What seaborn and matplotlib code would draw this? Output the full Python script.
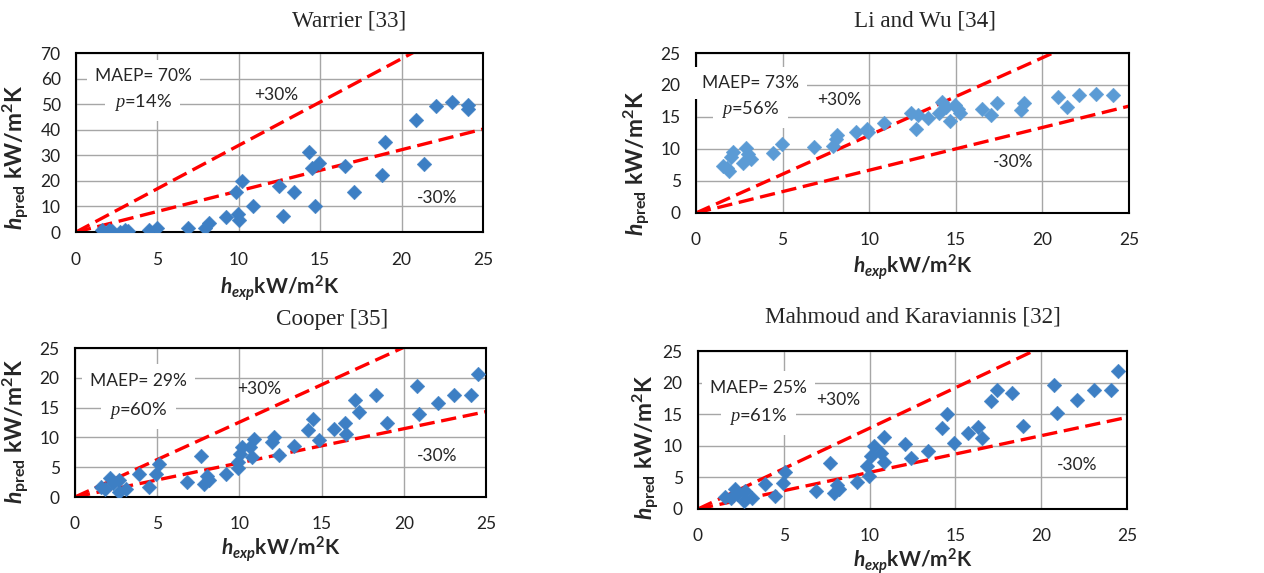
import matplotlib
matplotlib.use("Agg")
import matplotlib.pyplot as plt
import seaborn as sns
import numpy as np
import pandas as pd

# ---- data ----
# Warrier [33]
warrier_x = [1.6, 2.0, 2.2, 2.7, 3.0, 3.2, 4.5, 4.95, 6.9, 7.9, 8.15, 9.2, 9.85, 9.97, 10.0, 10.2,
             10.85, 12.5, 12.7, 13.4, 14.3, 14.5, 14.7, 14.9, 16.5, 17.1, 18.8, 19.0, 20.9, 21.4,
             22.1, 23.1, 24.1, 24.1]
warrier_y = [0.7, 0.7, 0.4, 0.0, 0.9, 0.4, 0.7, 1.6, 1.7, 1.6, 3.5, 5.9, 15.6, 7.2, 4.6, 19.8,
             10.0, 17.9, 6.1, 15.6, 31.2, 25.2, 10.2, 27.1, 25.8, 15.6, 22.3, 35.3, 43.9, 26.7,
             49.2, 50.8, 49.8, 48.2]

# Li and Wu [34]
liwu_x = [1.58, 1.8, 1.9, 2.0, 2.15, 2.7, 2.9, 3.0, 3.2, 4.46, 4.94, 6.83, 7.9, 8.08, 8.13, 9.23,
          9.9, 9.94, 10.83, 12.4, 12.7, 12.83, 13.4, 14.04, 14.23, 14.46, 14.65, 14.94, 15.13,
          15.27, 16.52, 17.06, 17.4, 18.75, 18.94, 20.9, 21.4, 22.1, 23.1, 24.1]
liwu_y = [7.4, 7.0, 6.6, 8.8, 9.6, 7.8, 10.1, 9.2, 8.5, 9.3, 10.8, 10.3, 10.5, 11.5, 12.2, 12.7,
          13.2, 12.6, 14.0, 15.6, 13.2, 15.3, 14.9, 15.6, 17.4, 16.6, 14.3, 16.9, 16.3,
          15.6, 16.3, 15.3, 17.2, 16.1, 17.2, 18.2, 16.5, 18.4, 18.6, 18.4]

# Cooper [35]
cooper_x = [1.56, 1.8, 2.13, 2.3, 2.68, 2.68, 3.1, 3.9, 4.5, 4.9, 5.1, 6.8, 7.67, 7.87, 8.03, 8.15,
            9.2, 9.9, 9.94, 10.02, 10.14, 10.67, 10.77, 10.86, 12.0, 12.1, 12.4, 13.35, 14.2,
            14.45, 14.86, 15.73, 16.4, 16.5, 17.05, 17.3, 18.3, 18.95, 20.8, 20.9, 22.1, 23.05,
            24.1, 24.5]
cooper_y = [1.7, 1.4, 3.2, 2.4, 2.8, 0.8, 1.4, 3.8, 1.6, 3.9, 5.6, 2.6, 6.9, 2.2, 3.5, 2.8,
            3.8, 4.8, 5.9, 7.2, 8.4, 8.4, 6.7, 9.7, 9.3, 10.0, 7.1, 8.6, 11.3,
            13.1, 9.6, 11.4, 12.4, 10.5, 16.2, 14.2, 17.2, 12.4, 18.7, 14.0, 15.8, 17.1,
            17.2, 20.7]

# Mahmoud and Karaviannis [32]
mahmoud_x = [1.6, 1.92, 2.17, 2.3, 2.7, 2.72, 3.16, 3.9, 4.5, 4.95, 5.1, 6.85, 7.7, 7.9, 8.1, 8.2,
             9.26, 9.84, 9.94, 10.07, 10.27, 10.68, 10.85, 10.85, 12.07, 12.42, 13.43, 14.23,
             14.5, 14.9, 15.76, 16.34, 16.54, 17.06, 17.4, 18.32, 18.96, 20.77, 20.92, 22.1,
             23.08, 24.05, 24.5]
mahmoud_y = [1.9, 1.7, 3.2, 2.4, 1.2, 2.9, 1.7, 3.9, 2.0, 4.1, 5.8, 2.8, 7.2, 2.5, 3.8, 3.2,
             4.2, 6.8, 5.2, 8.4, 9.9, 8.8, 7.4, 11.4, 10.3, 8.1, 9.1, 12.8,
             15.0, 10.5, 12.0, 12.9, 11.2, 17.1, 18.9, 18.3, 13.2, 19.7, 15.2, 17.2,
             18.8, 18.9, 21.9]

titles = ["Warrier [33]", "Li and Wu [34]", "Cooper [35]", "Mahmoud and Karaviannis [32]"]
maep = ["70%", "73%", "29%", "25%"]
pval = ["14%", "56%", "60%", "61%"]
upper_slope = [3.39, 1.213, 1.256, 1.279]
lower_slope = [1.61, 0.668, 0.573, 0.58]
ymax = [70, 25, 25, 25]
ystep = [10, 5, 5, 5]
colors = ["#3d7fc4", "#5b9bd5", "#3d7fc4", "#3d7fc4"]

# text anchor spots (data coords) for the annotations
maep_pos = [(4.14, 60.9), (3.15, 20.3), (3.86, 19.5), (3.53, 19.2)]
p_pos = [(4.1, 50.6), (3.15, 16.2), (3.86, 14.6), (3.53, 14.6)]
plus_pos = [(12.3, 53.7), (8.27, 17.7), (11.2, 18.1), (8.15, 17.3)]
minus_pos = [(22.2, 13.3), (18.3, 7.9), (22.0, 6.9), (22.1, 7.0)]

# axes boxes [left, bottom, width, height] in figure fraction
boxes = [[0.0601, 0.595, 0.322, 0.3124],
         [0.5506, 0.6283, 0.3426, 0.2792],
         [0.0593, 0.1326, 0.3252, 0.260],
         [0.5522, 0.1117, 0.3394, 0.2757]]
title_xy = [(0.276, 0.963), (0.732, 0.963), (0.263, 0.443), (0.722, 0.447)]
ylab_xy = [(-0.108, 0.416), (-0.099, 0.31), (-0.105, 0.44), (-0.084, 0.39)]
xlab_pad = [4, 3, 1, 1]

sns.set_theme(style="white")
plt.rcParams["font.family"] = ["Lato", "DejaVu Sans"]
plt.rcParams["mathtext.fontset"] = "custom"
plt.rcParams["mathtext.rm"] = "Lato:bold"
plt.rcParams["mathtext.bf"] = "Lato:bold"
plt.rcParams["mathtext.it"] = "Lato:italic:bold"
plt.rcParams["mathtext.cal"] = "Liberation Serif:italic"

fig = plt.figure(figsize=(12.64, 5.73), dpi=100)

datasets = [(warrier_x, warrier_y), (liwu_x, liwu_y), (cooper_x, cooper_y), (mahmoud_x, mahmoud_y)]

for i, (xs, ys) in enumerate(datasets):
    ax = fig.add_axes(boxes[i])
    df = pd.DataFrame({"hexp": xs, "hpred": ys})
    # +/-30% lines
    xl = np.array([0, 25])
    ax.plot(xl, upper_slope[i] * xl, color="#ff0000", lw=2.4, ls=(0, (4.6, 2.0)), zorder=2)
    ax.plot(xl, lower_slope[i] * xl, color="#ff0000", lw=2.4, ls=(0, (4.6, 2.0)), zorder=2)
    sns.scatterplot(data=df, x="hexp", y="hpred", ax=ax, marker="D", s=56,
                    color=colors[i], edgecolor=colors[i], linewidth=0.3, zorder=3)

    ax.set_xlim(0, 25)
    ax.set_ylim(0, ymax[i])
    ax.set_xticks(np.arange(0, 26, 5))
    ax.set_yticks(np.arange(0, ymax[i] + 1, ystep[i]))
    ax.grid(True, color="#a6a6a6", lw=1.0)
    ax.set_axisbelow(True)
    for sp in ax.spines.values():
        sp.set_color("black")
        sp.set_linewidth(1.5)
    ax.tick_params(axis="both", length=0, labelsize=12.5, colors="#222222")
    ax.tick_params(axis="x", pad=14)
    ax.tick_params(axis="y", pad=11)

    ax.set_xlabel(r"$h_{exp}$kW/m$^{\mathbf{2}}$K", fontsize=15, fontweight="bold",
                  labelpad=xlab_pad[i])
    ax.set_ylabel(r"$h_{\mathbf{pred}}$ kW/m$^{\mathbf{2}}$K", fontsize=16.5, fontweight="bold")
    ax.yaxis.set_label_coords(*ylab_xy[i])

    fig.text(title_xy[i][0], title_xy[i][1], titles[i], ha="center", va="center",
             fontsize=16.7, family="Liberation Serif")

    ax.text(maep_pos[i][0], maep_pos[i][1], "MAEP= " + maep[i], ha="center", va="center",
            fontsize=12.5, zorder=4,
            bbox=dict(facecolor="white", edgecolor="none", pad=6))
    ax.text(p_pos[i][0], p_pos[i][1], r"$\mathcal{p}$=" + pval[i], ha="center", va="center",
            fontsize=13.2, zorder=4,
            bbox=dict(facecolor="white", edgecolor="none", pad=6))
    ax.text(plus_pos[i][0], plus_pos[i][1], "+30%", ha="center", va="center", fontsize=12.5)
    ax.text(minus_pos[i][0], minus_pos[i][1], "-30%", ha="center", va="center", fontsize=12.5)

fig.savefig("out.png", dpi=100)
